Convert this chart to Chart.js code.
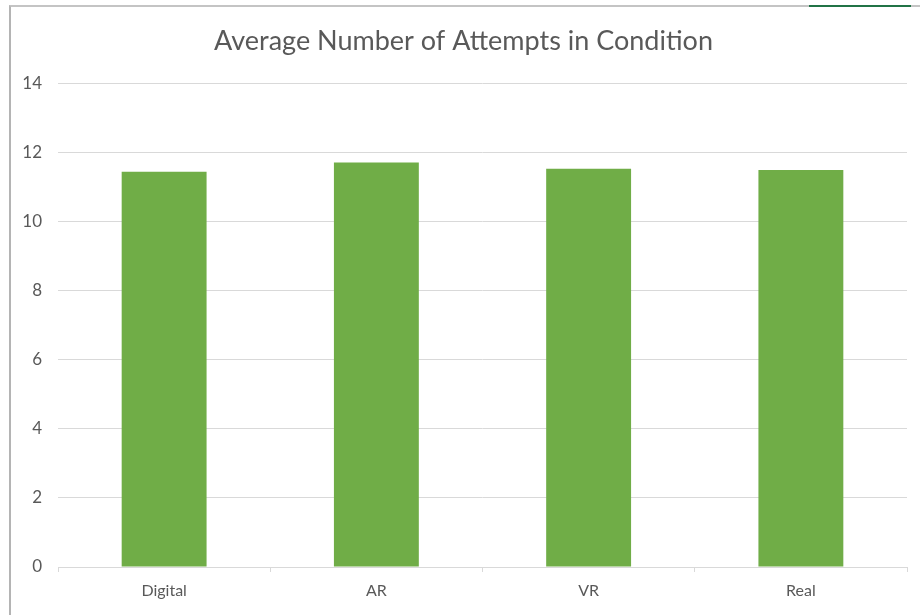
<!DOCTYPE html>
<html>
<head>
<meta charset="utf-8">
<script src="https://cdn.jsdelivr.net/npm/chart.js@4.4.1/dist/chart.umd.min.js"></script>
<style>
  html, body { margin: 0; padding: 0; background: #fff; }
  #wrap { position: relative; width: 920px; height: 615px; overflow: hidden; }
  #frame {
    position: absolute; left: 9px; top: 5px; right: 0; bottom: 0;
    border-left: 2px solid #b4b4b4; border-top: 2px solid #c4c4c4;
  }
  #tab { position: absolute; left: 809px; top: 5px; width: 102px; height: 2px; background: #217346; }
  canvas { position: absolute; left: 0; top: 0; }
</style>
</head>
<body>
<div id="wrap">
  <div id="frame"></div>
  <div id="tab"></div>
  <canvas id="chart" width="920" height="615"></canvas>
</div>
<script>
const categories = ["Digital", "AR", "VR", "Real"];
const attempts = [11.44, 11.71, 11.53, 11.49];
const yTicks = [0, 2, 4, 6, 8, 10, 12, 14];

const TEXT_COLOR = "#595959";
const GRID_COLOR = "#d9d9d9";
const BAR_COLOR = "#70ad47";

document.addEventListener("DOMContentLoaded", () => {
  const ctx = document.getElementById("chart");
  new Chart(ctx, {
    type: "bar",
    data: {
      labels: categories,
      datasets: [
        {
          label: "Average Number of Attempts",
          data: attempts,
          backgroundColor: BAR_COLOR,
          barPercentage: 0.4,
          categoryPercentage: 1,
        },
      ],
    },
    options: {
      responsive: false,
      animation: false,
      layout: { padding: { left: 20, right: 13, top: 25, bottom: 0 } },
      plugins: {
        legend: { display: false },
        tooltip: { enabled: false },
        title: {
          display: true,
          text: "Average Number of Attempts in Condition",
          color: TEXT_COLOR,
          font: { family: "Lato", size: 27, weight: "normal" },
          padding: { top: 0, bottom: 26 },
        },
      },
      scales: {
        x: {
          grid: {
            offset: true,
            drawOnChartArea: false,
            drawTicks: true,
            tickLength: 5,
            color: GRID_COLOR,
          },
          border: { color: GRID_COLOR },
          ticks: {
            color: TEXT_COLOR,
            padding: 9,
            font: { family: "Lato", size: 16 },
          },
          afterFit: (s) => { s.height = 48; },
        },
        y: {
          min: 0,
          max: 14,
          afterBuildTicks: (s) => { s.ticks = yTicks.map((v) => ({ value: v })); },
          grid: { color: GRID_COLOR, drawTicks: false },
          border: { display: false },
          ticks: {
            color: TEXT_COLOR,
            padding: 16,
            font: { family: "Lato", size: 17 },
          },
          afterFit: (s) => { s.width = 38; },
        },
      },
    },
  });
});
</script>
</body>
</html>
